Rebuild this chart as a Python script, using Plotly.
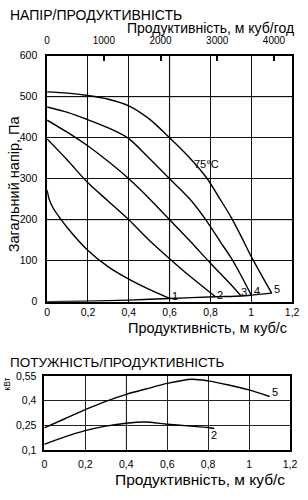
import plotly.graph_objects as go

# ---- data: pressure curves (Q in m3/s, P in Pa)
q1 = [0, 0.01, 0.03, 0.066, 0.1, 0.2, 0.3, 0.4, 0.5, 0.6]
p1 = [272, 250, 228, 202, 180, 125, 85, 55, 30, 8]
q2 = [0, 0.1, 0.2, 0.3, 0.4, 0.5, 0.6, 0.7, 0.8, 0.825]
p2 = [397, 345, 290, 245, 200, 150, 105, 62, 22, 12]
q3 = [0, 0.1, 0.2, 0.3, 0.4, 0.5, 0.6, 0.7, 0.8, 0.9, 0.95]
p3 = [443, 413, 380, 342, 300, 252, 200, 148, 94, 42, 14]
q4 = [0, 0.1, 0.2, 0.3, 0.4, 0.5, 0.6, 0.7, 0.78, 0.85, 0.9, 0.95, 1.0]
p4 = [475, 462, 444, 424, 398, 350, 300, 250, 198, 145, 108, 64, 16]
q5 = [0, 0.1, 0.2, 0.3, 0.4, 0.5, 0.6, 0.7, 0.78, 0.85, 0.9, 0.95, 1.0, 1.05, 1.1]
p5 = [512, 509, 503, 494, 478, 446, 400, 350, 303, 248, 207, 160, 110, 65, 21]
qs = [0, 0.2, 0.4, 0.6, 0.825, 0.95, 1.0, 1.1]
ps = [0, 1.5, 4, 8, 12, 14, 16, 21]

# ---- data: power curves (kW)
qn5 = [0, 0.1, 0.2, 0.3, 0.4, 0.5, 0.6, 0.72, 0.8, 0.9, 1.0, 1.1]
n5 = [0.235, 0.29, 0.345, 0.395, 0.438, 0.472, 0.505, 0.53, 0.52, 0.495, 0.465, 0.425]
qn2 = [0, 0.1, 0.2, 0.3, 0.4, 0.49, 0.6, 0.7, 0.8, 0.83]
n2 = [0.135, 0.18, 0.218, 0.245, 0.263, 0.27, 0.257, 0.247, 0.237, 0.231]

# ---- labels / ticks
curve_labels = ["1", "2", "3", "4", "5"]
label_q = [0.628, 0.848, 0.962, 1.026, 1.128]
label_p = [15, 17, 24, 26, 30]
x_ticks = [0, 0.2, 0.4, 0.6, 0.8, 1.0, 1.2]
x_ticktext = ["0", "0,2", "0,4", "0,6", "0,8", "1", "1,2"]
y_ticks = [0, 100, 200, 300, 400, 500, 600]
top_ticks = [0, 1000, 2000, 3000, 4000]
ny_ticks = [0.1, 0.25, 0.4, 0.55]
ny_ticktext = ["0,1", "0,25", "0,4", "0,55"]

FONT = "Liberation Sans, Arial, sans-serif"
W, H = 308, 500

fig = go.Figure()
line = dict(color="black", width=1.4, shape="spline", smoothing=0.8)
for q, p in [(q1, p1), (q2, p2), (q3, p3), (q4, p4), (q5, p5), (qs, ps)]:
    fig.add_trace(go.Scatter(x=q, y=p, mode="lines", line=line,
                             xaxis="x", yaxis="y", showlegend=False, hoverinfo="skip"))
# carrier trace for the top (m3/h) axis
fig.add_trace(go.Scatter(x=top_ticks, y=[None] * len(top_ticks), mode="lines",
                         xaxis="x3", yaxis="y", showlegend=False, hoverinfo="skip"))
for q, n in [(qn5, n5), (qn2, n2)]:
    fig.add_trace(go.Scatter(x=q, y=n, mode="lines", line=line,
                             xaxis="x2", yaxis="y2", showlegend=False, hoverinfo="skip"))

tickfont = dict(family=FONT, size=10.5, color="black")
common = dict(showline=True, linecolor="black", linewidth=1.5, mirror=True,
              zeroline=False, showgrid=True, gridwidth=1, tickfont=tickfont, ticks="")

fig.update_layout(
    width=W, height=H, autosize=False,
    margin=dict(l=0, r=0, t=0, b=0),
    paper_bgcolor="white", plot_bgcolor="white",
    font=dict(family=FONT, color="black"),
    xaxis=dict(domain=[45.6 / W, 298.8 / W], anchor="y", range=[0, 1.2],
               tickvals=x_ticks, ticktext=x_ticktext, gridcolor="#111111",
               ticklabelstandoff=0, **common),
    yaxis=dict(domain=[1 - 303 / H, 1 - 51 / H], anchor="x", range=[0, 600],
               tickvals=y_ticks, gridcolor="#111111", ticklabelstandoff=6, **common),
    xaxis3=dict(overlaying="x", side="top", anchor="y", range=[0, 1.2 * 3600],
                tickvals=top_ticks, showgrid=False, showline=False, zeroline=False,
                ticks="inside", ticklen=5, tickwidth=1.5, tickcolor="black",
                tickfont=dict(family=FONT, size=10, color="black"), ticklabelstandoff=9),
    xaxis2=dict(domain=[42.7 / W, 296.7 / W], anchor="y2", range=[0, 1.2],
                tickvals=x_ticks, ticktext=x_ticktext, gridcolor="#222222",
                ticklabelstandoff=4, **common),
    yaxis2=dict(domain=[1 - 455 / H, 1 - 379 / H], anchor="x2", range=[0.1, 0.55],
                tickvals=ny_ticks, ticktext=ny_ticktext, gridcolor="#222222",
                ticklabelstandoff=4, **common),
)

# lighter grid lines as in the original
grey = dict(color="#b0b0b0", width=1.5)
fig.add_shape(type="line", xref="x", yref="y domain", x0=0.6, x1=0.6, y0=0, y1=1, line=grey, layer="below")
for yv in [200, 500]:
    fig.add_shape(type="line", xref="x domain", yref="y", x0=0, x1=1, y0=yv, y1=yv, line=grey, layer="below")
fig.add_shape(type="line", xref="x2", yref="y2 domain", x0=0.4, x1=0.4, y0=0, y1=1,
              line=dict(color="#999999", width=1), layer="below")

ann = []
for t, x, y in zip(curve_labels, label_q, label_p):
    ann.append(dict(x=x, y=y, xref="x", yref="y", text=t, showarrow=False,
                    font=dict(size=11, family=FONT)))
ann.append(dict(x=0.78, y=336, xref="x", yref="y", text="75°C", showarrow=False,
                font=dict(size=11, family=FONT)))
ann.append(dict(x=1.128, y=0.45, xref="x2", yref="y2", text="5", showarrow=False,
                font=dict(size=11, family=FONT)))
ann.append(dict(x=0.83, y=0.19, xref="x2", yref="y2", text="2", showarrow=False,
                font=dict(size=11, family=FONT)))


def paper(px, py, text, size, xanchor="left", angle=0):
    return dict(x=px / W, y=1 - py / H, xref="paper", yref="paper", text=text,
                showarrow=False, xanchor=xanchor, yanchor="middle", textangle=angle,
                font=dict(size=size, family=FONT, color="black"))


ann.append(paper(5, 9, "НАПІР/ПРОДУКТИВНІСТЬ", 14))
ann.append(paper(303, 22.5, "Продуктивність, м куб/год", 14, xanchor="right"))
ann.append(paper(11, 182, "Загальний напір, Па", 14.5, xanchor="center", angle=-90))
ann.append(paper(296, 330, "Продуктивність, м куб/с", 14.5, xanchor="right"))
ann.append(paper(5, 365, "ПОТУЖНІСТЬ/ПРОДУКТИВНІСТЬ", 13.5))
ann.append(paper(4, 387, "кВт", 8.5, xanchor="center", angle=-90))
ann.append(paper(294, 485, "Продуктивність, м куб/с", 15.5, xanchor="right"))
fig.update_layout(annotations=ann)

fig.write_html("out.html")
